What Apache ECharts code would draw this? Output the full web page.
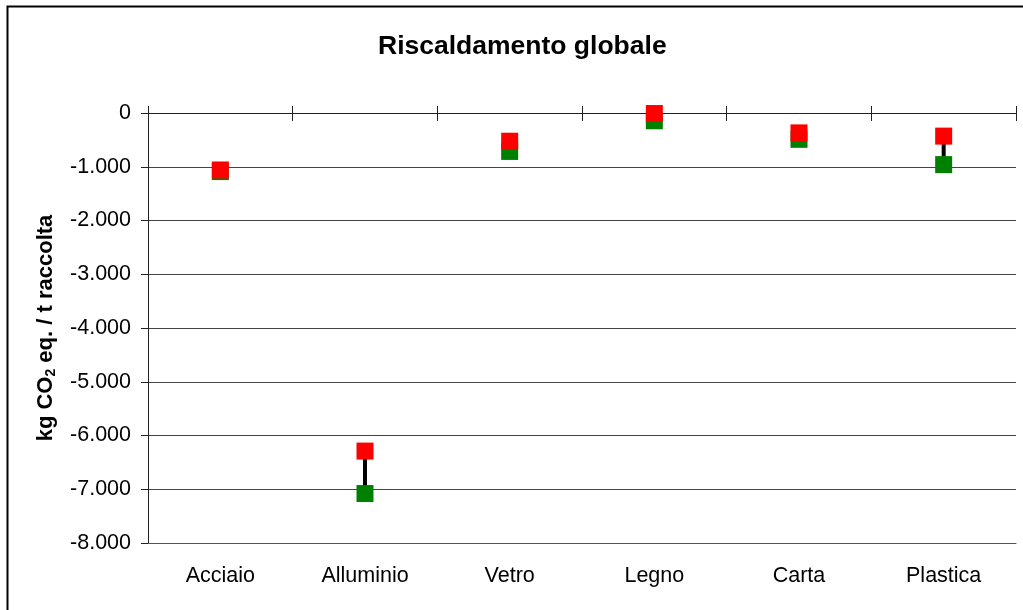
<!DOCTYPE html>
<html>
<head>
<meta charset="utf-8">
<script src="https://cdn.jsdelivr.net/npm/echarts@6/dist/echarts.min.js"></script>
<style>
  html, body { margin: 0; padding: 0; background: #fff; }
  #chart { width: 1023px; height: 610px; }
</style>
</head>
<body>
<div id="chart"></div>
<script>
// Global warming impact per tonne collected, range between two scenarios
const categories = ['Acciaio', 'Alluminio', 'Vetro', 'Legno', 'Carta', 'Plastica'];
const upperValues = [-1060, -6290, -525, -10, -370, -430];   // red markers
const lowerValues = [-1090, -7080, -715, -145, -490, -960];  // green markers
const yTicks = [0, -1000, -2000, -3000, -4000, -5000, -6000, -7000, -8000];

const FONT = '"Liberation Sans", Arial, sans-serif';

function fmtThousands(v) {
  const neg = v < 0;
  const s = String(Math.abs(v)).replace(/\B(?=(\d{3})+(?!\d))/g, '.');
  return (neg ? '-' : '') + s;
}

const rangeData = categories.map((c, i) => [i, lowerValues[i], upperValues[i]]);

const chart = echarts.init(document.getElementById('chart'), null, { renderer: 'canvas' });

chart.setOption({
  backgroundColor: '#ffffff',
  animation: false,
  title: {
    text: 'Riscaldamento globale',
    left: 373,
    top: 28,
    textStyle: { fontFamily: FONT, fontSize: 26.5, fontWeight: 'bold', color: '#000' }
  },
  graphic: [{
    type: 'rect',
    shape: { x: 7.5, y: 6.5, width: 1040, height: 640 },
    style: { fill: null, stroke: '#000', lineWidth: 2 },
    silent: true
  }],
  grid: { left: 148, right: 7, top: 113, bottom: 67 },
  xAxis: [
    {
      type: 'category',
      data: categories,
      position: 'bottom',
      boundaryGap: true,
      axisLine: { onZero: false, lineStyle: { color: '#555', width: 1 } },
      axisTick: { show: false },
      axisLabel: { margin: 22, fontFamily: FONT, fontSize: 21.5, color: '#000' },
      splitLine: { show: false }
    },
    {
      type: 'category',
      data: categories,
      position: 'top',
      boundaryGap: true,
      axisLine: { onZero: false, lineStyle: { color: '#222', width: 1 } },
      axisTick: { show: true, inside: false, length: 7, lineStyle: { color: '#222' } },
      axisLabel: { show: false },
      splitLine: { show: false }
    },
    {
      type: 'category',
      data: categories,
      position: 'top',
      boundaryGap: true,
      axisLine: { show: false, onZero: false },
      axisTick: { show: true, inside: true, length: 8, lineStyle: { color: '#222' } },
      axisLabel: { show: false },
      splitLine: { show: false }
    }
  ],
  yAxis: {
    type: 'value',
    min: -8000,
    max: 0,
    interval: 1000,
    name: '{a|kg CO}{s|2}{a| eq. / t raccolta}',
    nameLocation: 'middle',
    nameRotate: 90,
    nameGap: 90,
    nameTextStyle: {
      rich: {
        a: { fontFamily: FONT, fontSize: 22, fontWeight: 'bold', color: '#000' },
        s: { fontFamily: FONT, fontSize: 14, fontWeight: 'bold', color: '#000', padding: [11, 0, 0, 0] }
      }
    },
    axisLine: { show: true, lineStyle: { color: '#222', width: 1 } },
    axisTick: { show: true, length: 7, lineStyle: { color: '#222' } },
    axisLabel: {
      margin: 17,
      fontFamily: FONT,
      fontSize: 21.5,
      color: '#000',
      formatter: v => yTicks.includes(v) ? fmtThousands(v) : ''
    },
    splitLine: { show: true, lineStyle: { color: '#444', width: 1 } }
  },
  series: [
    {
      type: 'custom',
      xAxisIndex: 0,
      data: rangeData,
      encode: { x: 0, y: [1, 2] },
      z: 1,
      renderItem: function (params, api) {
        const p1 = api.coord([api.value(0), api.value(1)]);
        const p2 = api.coord([api.value(0), api.value(2)]);
        return {
          type: 'line',
          shape: { x1: p1[0], y1: p1[1], x2: p2[0], y2: p2[1] },
          style: { stroke: '#000', lineWidth: 4 }
        };
      }
    },
    {
      name: 'lower',
      type: 'scatter',
      xAxisIndex: 0,
      data: lowerValues,
      symbol: 'rect',
      symbolSize: 17,
      itemStyle: { color: '#008000', opacity: 1 },
      z: 2
    },
    {
      name: 'upper',
      type: 'scatter',
      xAxisIndex: 0,
      data: upperValues,
      symbol: 'rect',
      symbolSize: 17,
      itemStyle: { color: '#ff0000', opacity: 1 },
      z: 3
    }
  ]
});
</script>
</body>
</html>
